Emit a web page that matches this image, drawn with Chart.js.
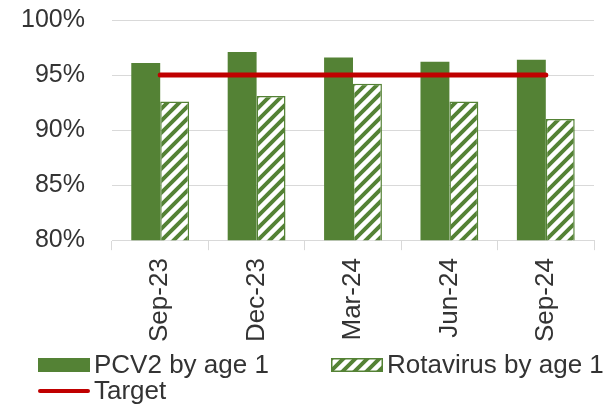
<!DOCTYPE html>
<html>
<head>
<meta charset="utf-8">
<script src="https://cdn.jsdelivr.net/npm/chart.js@4/dist/chart.umd.min.js"></script>
<style>
  html, body { margin: 0; padding: 0; background: #fff; }
  #wrap { width: 611px; height: 409px; position: relative; }
</style>
</head>
<body>
<div id="wrap"><canvas id="chart"></canvas></div>
<script>
// data
const categories = ['Sep-23', 'Dec-23', 'Mar-24', 'Jun-24', 'Sep-24'];
const pcv2 = [96.1, 97.1, 96.6, 96.2, 96.4];
const rotavirus = [92.6, 93.1, 94.2, 92.6, 91.0];
const target = [95, 95, 95, 95, 95];
const yMin = 80, yMax = 100, yStep = 5;

const GREEN = '#548235';
const RED = '#C00000';
const TEXT = '#333333';
const FONT = 'Liberation Sans, Arial, sans-serif';

// diagonal hatch fill like Excel's wide upward diagonal
function makeHatch() {
    const n = 12;
    const c = document.createElement('canvas');
    c.width = n; c.height = n;
    const g = c.getContext('2d');
    g.fillStyle = GREEN;
    g.fillRect(0, 0, n, n);
    g.strokeStyle = '#ffffff';
    g.lineWidth = 4.5;
    g.beginPath();
    g.moveTo(-n / 2, n / 2); g.lineTo(n / 2, -n / 2);
    g.moveTo(0, n); g.lineTo(n, 0);
    g.moveTo(n / 2, n * 1.5); g.lineTo(n * 1.5, n / 2);
    g.stroke();
    return g.createPattern(c, 'repeat');
}
const hatch = makeHatch();

// legend drawn in excel-like columns
const excelLegend = {
    id: 'excelLegend',
    afterDraw(chart) {
        const ctx = chart.ctx;
        const items = [
            { ds: 0, x: 38, y: 365 },
            { ds: 1, x: 331, y: 365 },
            { ds: 2, x: 38, y: 391 }
        ];
        ctx.save();
        ctx.font = '26px ' + FONT;
        ctx.textBaseline = 'middle';
        items.forEach(it => {
            const ds = chart.data.datasets[it.ds];
            if (ds.type === 'line') {
                ctx.strokeStyle = ds.borderColor;
                ctx.lineWidth = 4;
                ctx.lineCap = 'round';
                ctx.beginPath();
                ctx.moveTo(it.x + 2, it.y);
                ctx.lineTo(it.x + 50, it.y);
                ctx.stroke();
            } else {
                ctx.fillStyle = ds.backgroundColor;
                ctx.fillRect(it.x, it.y - 7, 52, 14);
                if (ds.borderWidth) {
                    ctx.strokeStyle = ds.borderColor;
                    ctx.lineWidth = 1.5;
                    ctx.strokeRect(it.x + 0.75, it.y - 6.25, 50.5, 12.5);
                }
            }
            ctx.fillStyle = TEXT;
            ctx.fillText(ds.label, it.x + 56, it.y + 1);
        });
        ctx.restore();
    }
};

new Chart(document.getElementById('chart'), {
    data: {
        labels: categories,
        datasets: [
            {
                type: 'bar',
                label: 'PCV2 by age 1',
                data: pcv2,
                backgroundColor: GREEN,
                borderWidth: 0,
                barPercentage: 1,
                categoryPercentage: 0.6,
                order: 1
            },
            {
                type: 'bar',
                label: 'Rotavirus by age 1',
                data: rotavirus,
                backgroundColor: hatch,
                borderColor: GREEN,
                borderWidth: 1.5,
                barPercentage: 1,
                categoryPercentage: 0.6,
                order: 1
            },
            {
                type: 'line',
                label: 'Target',
                data: target,
                borderColor: RED,
                backgroundColor: RED,
                borderWidth: 5,
                borderCapStyle: 'round',
                pointRadius: 0,
                fill: false,
                order: 0
            }
        ]
    },
    options: {
        responsive: true,
        maintainAspectRatio: false,
        animation: false,
        layout: {
            padding: { left: 21, right: 17, top: 20, bottom: 59 }
        },
        plugins: {
            legend: { display: false },
            tooltip: { enabled: false }
        },
        scales: {
            x: {
                offset: true,
                grid: {
                    display: true,
                    drawOnChartArea: false,
                    drawTicks: true,
                    tickLength: 10,
                    color: '#d9d9d9'
                },
                border: { display: true, color: '#d9d9d9', width: 1 },
                ticks: {
                    minRotation: 90,
                    maxRotation: 90,
                    padding: 8,
                    color: TEXT,
                    font: { family: FONT, size: 26 }
                },
                afterFit(s) { s.paddingLeft = 0; s.paddingRight = 0; }
            },
            y: {
                min: yMin,
                max: yMax,
                grid: { color: '#d9d9d9', drawTicks: false },
                border: { display: false },
                ticks: {
                    stepSize: yStep,
                    padding: 27,
                    color: TEXT,
                    font: { family: FONT, size: 25 },
                    callback: v => v + '%'
                },
                afterFit(s) { s.width = 91; s.paddingTop = 0; s.paddingBottom = 0; }
            }
        }
    },
    plugins: [excelLegend]
});
</script>
</body>
</html>
